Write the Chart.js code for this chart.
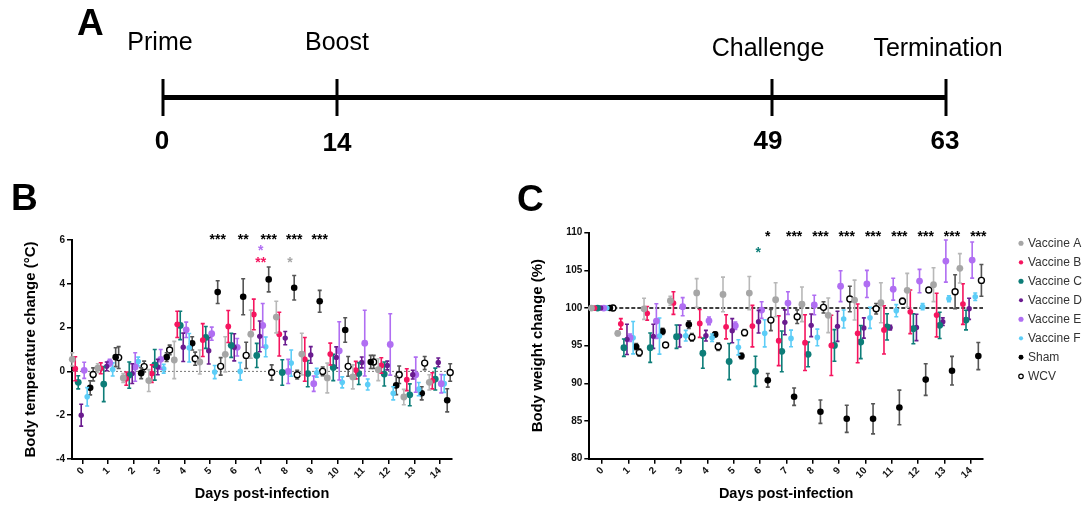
<!DOCTYPE html>
<html>
<head>
<meta charset="utf-8">
<script src="https://cdn.jsdelivr.net/npm/chart.js@4.4.1/dist/chart.umd.min.js"></script>
<style>
  html, body { margin: 0; padding: 0; background: #fff; }
  body { width: 1089px; height: 506px; position: relative; overflow: hidden; }
  canvas { position: absolute; }
  #timeline { left: 0; top: 0; }
  #tempChart { left: 0; top: 170px; }
  #weightChart { left: 500px; top: 170px; }
</style>
</head>
<body>
<canvas id="timeline" width="1089" height="170"></canvas>
<canvas id="tempChart" width="500" height="336"></canvas>
<canvas id="weightChart" width="589" height="336"></canvas>
<script>
// timeline (panel A)
const timelineDays = [0, 14, 49, 63];
const timelineEvents = ["Prime", "Boost", "Challenge", "Termination"];

// groups
const days = [0, 1, 2, 3, 4, 5, 6, 7, 8, 9, 10, 11, 12, 13, 14];
const groupNames = ["Vaccine A", "Vaccine B", "Vaccine C", "Vaccine D", "Vaccine E", "Vaccine F", "Sham", "WCV"];

// body temperature change (°C), mean and error
const tempVaccineA = [0.55, 0.15, -0.3, -0.42, 0.52, 0.43, 0.78, 1.7, 2.48, 0.79, -0.3, -0.25, 0.08, -1.17, -0.5];
const tempVaccineB = [0.12, 0.14, -0.33, -0.1, 2.15, 1.43, 2.05, 2.6, 1.7, 0.55, 0.79, 0.06, 0.27, -0.38, -0.43];
const tempVaccineC = [-0.5, -0.58, -0.17, 0.3, 2.1, 1.55, 1.19, 0.73, -0.05, -0.1, 0.18, -0.1, -0.12, -1.07, -0.35];
const tempVaccineD = [-2.0, 0.23, -0.1, 0.2, 1.1, 0.94, 1.1, 1.6, 1.52, 0.75, 0.64, 0.41, 0.27, -0.15, 0.41];
const tempVaccineE = [0.05, 0.4, 0.2, 0.55, 1.9, 1.72, 1.1, 2.1, 0.0, -0.56, 0.94, 1.29, 1.23, -0.15, -0.56];
const tempVaccineF = [-1.16, 0.09, 0.45, 0.12, 1.08, -0.03, 0.0, 1.12, 0.38, -0.06, -0.5, -0.6, -1.0, -0.81, -0.56];
const tempSham = [-0.75, 0.65, -0.08, 0.65, 1.28, 3.62, 3.41, 4.2, 3.82, 3.2, 1.89, 0.43, -0.64, -1.0, -1.32];
const tempWCV = [-0.14, 0.63, 0.22, 0.98, 0.58, 0.23, 0.73, -0.05, -0.15, 0.0, 0.23, 0.43, -0.15, 0.38, -0.05];

const tempErrA = [0.3, 0.2, 0.2, 0.5, 0.85, 0.55, 0.8, 1.1, 0.72, 0.95, 0.68, 0.55, 0.5, 0.35, 0.35];
const tempErrB = [0.55, 0.25, 0.3, 0.4, 0.6, 0.75, 0.73, 0.7, 1.0, 1.0, 0.5, 0.4, 0.35, 0.5, 0.37];
const tempErrC = [0.3, 0.8, 0.6, 0.7, 0.65, 0.5, 0.55, 0.55, 0.58, 0.6, 0.6, 0.5, 0.55, 0.5, 0.5];
const tempErrD = [0.5, 0.2, 0.45, 0.35, 0.65, 0.6, 0.62, 0.7, 0.3, 0.38, 0.48, 0.25, 0.2, 0.2, 0.2];
const tempErrE = [0.37, 0.15, 0.65, 0.45, 0.35, 0.3, 0.4, 1.0, 0.55, 0.35, 1.33, 1.5, 1.4, 0.8, 0.42];
const tempErrF = [0.42, 0.3, 0.2, 0.2, 0.65, 0.3, 0.4, 0.45, 0.6, 0.2, 0.25, 0.25, 0.3, 0.3, 0.4];
const tempErrSham = [0.32, 0.43, 0.25, 0.2, 0.3, 0.52, 0.82, 0.57, 0.56, 0.5, 0.56, 0.3, 0.42, 0.3, 0.53];
const tempErrWCV = [0.3, 0.5, 0.25, 0.22, 0.3, 0.4, 0.6, 0.35, 0.2, 0.2, 0.45, 0.3, 0.4, 0.3, 0.4];

// body weight change (%), mean and error
const weightVaccineA = [100, 96.64, 99.9, 100.97, 102.0, 101.8, 101.99, 101.1, 100.5, 99.03, 101.06, 100.7, 102.35, 103.1, 105.27];
const weightVaccineB = [100, 97.9, 99.3, 100.66, 97.96, 97.5, 97.6, 95.66, 95.4, 95.04, 96.64, 97.1, 99.5, 99.07, 100.53];
const weightVaccineC = [100, 94.73, 94.73, 96.2, 94.0, 92.9, 91.6, 94.25, 93.85, 95.04, 95.49, 97.5, 97.25, 97.7, 98.4];
const weightVaccineD = [100, 95.84, 96.24, 96.28, 96.33, 97.0, 98.19, 98.1, 97.7, 97.57, 97.35, 97.4, 97.43, 98.19, 99.9];
const weightVaccineE = [100, 96.06, 98.27, 100.18, 98.3, 97.65, 99.73, 100.66, 100.4, 102.9, 103.2, 102.5, 103.58, 106.24, 106.37];
const weightVaccineF = [100, 96.06, 96.28, 96.33, 96.06, 94.78, 96.64, 95.97, 96.1, 98.54, 98.7, 99.65, 100.18, 101.24, 101.5];
const weightSham = [100, 94.87, 96.9, 97.8, 96.5, 93.63, 90.4, 88.23, 86.24, 85.3, 85.3, 86.8, 90.5, 91.68, 93.63];
const weightWCV = [100, 94.1, 95.1, 96.1, 94.87, 96.73, 98.4, 98.85, 100.09, 101.2, 99.9, 100.9, 102.4, 102.16, 103.67];

const weightErrA = [0.1, 0.3, 1.4, 0.6, 1.9, 2.3, 2.2, 2.25, 2.3, 2.3, 2.65, 2.65, 2.25, 2.25, 1.95];
const weightErrB = [0.1, 0.7, 0.9, 1.5, 1.85, 1.6, 2.75, 3.3, 3.7, 4.0, 3.9, 3.2, 2.9, 2.9, 2.7];
const weightErrC = [0.1, 1.15, 1.95, 1.55, 2.0, 2.4, 2.0, 2.7, 1.65, 2.1, 2.2, 1.75, 2.0, 1.75, 1.3];
const weightErrD = [0.1, 2.0, 1.6, 1.45, 0.7, 1.6, 1.5, 1.65, 1.5, 2.0, 1.35, 0.3, 1.75, 0.5, 1.4];
const weightErrE = [0.1, 0.5, 2.3, 1.2, 0.5, 0.5, 1.1, 1.5, 1.3, 2.05, 1.8, 1.45, 1.55, 2.8, 2.4];
const weightErrF = [0.1, 2.15, 2.4, 0.7, 0.5, 1.0, 1.8, 1.1, 1.1, 1.2, 1.4, 0.8, 0.4, 0.4, 0.5];
const weightErrSham = [0.1, 0.4, 0.4, 0.5, 0.3, 0.4, 0.9, 1.15, 1.55, 1.8, 2.0, 2.3, 2.1, 1.9, 1.8];
const weightErrWCV = [0.1, 0.5, 0.2, 0.5, 0.5, 0.4, 1.4, 0.9, 0.75, 1.7, 0.7, 0.4, 0.3, 2.25, 2.1];

// axis ticks
const tempTicks = [-4, -2, 0, 2, 4, 6];
const weightTicks = [80, 85, 90, 95, 100, 105, 110];

// significance marks (vs Sham on top row, single groups below)
const tempSigDays = [5, 6, 7, 8, 9];
const tempSigLabels = ["***", "**", "***", "***", "***"];
const tempGroupSigX = [6.98, 6.98, 8.13];
const tempGroupSigY = [5.69, 5.11, 5.11];
const tempGroupSigGroup = [4, 1, 0];
const tempGroupSigLabels = ["*", "**", "*"];

const weightSigDays = [6, 7, 8, 9, 10, 11, 12, 13, 14];
const weightSigLabels = ["*", "***", "***", "***", "***", "***", "***", "***", "***"];
const weightGroupSigX = [5.93];
const weightGroupSigY = [107.84];
const weightGroupSigGroup = [2];
const weightGroupSigLabels = ["*"];

// styles
const groupColors = ["#a6a6a6", "#f5155f", "#0d7d78", "#6a1b8f", "#b06ef2", "#5ccdf7", "#000000", "#000000"];
const errorColors = ["#b8b8b8", "#f5155f", "#0d7d78", "#6a1b8f", "#b06ef2", "#5ccdf7", "#555555", "#555555"];
const pointSizes = [3.4, 2.9, 3.4, 2.7, 3.4, 2.8, 3.3, 3.0];
const groupShift = 0.117;
const FONT = "'Liberation Sans', Arial, Helvetica, sans-serif";

Chart.defaults.font.family = FONT;

const tempMeans = [tempVaccineA, tempVaccineB, tempVaccineC, tempVaccineD, tempVaccineE, tempVaccineF, tempSham, tempWCV];
const tempErrs = [tempErrA, tempErrB, tempErrC, tempErrD, tempErrE, tempErrF, tempErrSham, tempErrWCV];
const weightMeans = [weightVaccineA, weightVaccineB, weightVaccineC, weightVaccineD, weightVaccineE, weightVaccineF, weightSham, weightWCV];
const weightErrs = [weightErrA, weightErrB, weightErrC, weightErrD, weightErrE, weightErrF, weightErrSham, weightErrWCV];

function groupX(day, g) {
    return day + (g - 3.5) * groupShift;
}

function buildDatasets(means, errs) {
    return groupNames.map((name, g) => ({
        label: name,
        data: days.map((d, i) => ({ x: groupX(d, g), y: means[g][i] })),
        errors: errs[g],
        errorColor: errorColors[g],
        pointRadius: pointSizes[g],
        pointBackgroundColor: name === "WCV" ? "#ffffff" : groupColors[g],
        pointBorderColor: groupColors[g],
        pointBorderWidth: name === "WCV" ? 1.4 : 0,
        showLine: false,
        clip: false
    }));
}

function refLine(xmin, xmax, value, color, width, dash) {
    return {
        label: "ref",
        data: [{ x: xmin, y: value }, { x: xmax, y: value }],
        showLine: true,
        pointRadius: 0,
        borderColor: color,
        borderWidth: width,
        borderDash: dash,
        order: 10
    };
}

// error bars drawn right before each dataset's points
const errorBars = {
    id: "errorBars",
    beforeDatasetDraw(chart, args) {
        const ds = chart.data.datasets[args.index];
        if (!ds.errors) return;
        const ctx = chart.ctx;
        const yScale = chart.scales.y;
        ctx.save();
        ctx.strokeStyle = ds.errorColor;
        ctx.lineWidth = 1.6;
        args.meta.data.forEach((pt, i) => {
            const v = ds.data[i].y;
            const e = ds.errors[i];
            const y1 = yScale.getPixelForValue(v - e);
            const y2 = yScale.getPixelForValue(v + e);
            ctx.beginPath();
            ctx.moveTo(pt.x, y1); ctx.lineTo(pt.x, y2);
            ctx.moveTo(pt.x - 2, y1); ctx.lineTo(pt.x + 2, y1);
            ctx.moveTo(pt.x - 2, y2); ctx.lineTo(pt.x + 2, y2);
            ctx.stroke();
        });
        ctx.restore();
    }
};

function drawStar(ctx, text, x, y, color) {
    ctx.fillStyle = color;
    ctx.font = "bold 14px " + FONT;
    ctx.textAlign = "center";
    ctx.textBaseline = "alphabetic";
    ctx.fillText(text, x, y + 8);
}

function sigPlugin(sigDays, sigLabels, topValue, gx, gy, gg, gl) {
    return {
        id: "sigMarks",
        afterDraw(chart) {
            const ctx = chart.ctx, xs = chart.scales.x, ys = chart.scales.y;
            ctx.save();
            sigDays.forEach((d, i) => {
                drawStar(ctx, sigLabels[i], xs.getPixelForValue(groupX(d, 6)), ys.getPixelForValue(topValue), "#000");
            });
            gx.forEach((x, i) => {
                drawStar(ctx, gl[i], xs.getPixelForValue(x), ys.getPixelForValue(gy[i]), groupColors[gg[i]]);
            });
            ctx.restore();
        }
    };
}

function panelLetter(letter, x, y) {
    return {
        id: "panelLetter",
        afterDraw(chart) {
            const ctx = chart.ctx;
            ctx.save();
            ctx.fillStyle = "#000";
            ctx.font = "bold 37px " + FONT;
            ctx.textAlign = "left";
            ctx.textBaseline = "alphabetic";
            ctx.fillText(letter, x, y);
            ctx.restore();
        }
    };
}

function axisOptions(min, max, size, title, titlePad) {
    return {
        type: "linear",
        min: min,
        max: max,
        grid: { display: true, drawOnChartArea: false, drawTicks: true, tickLength: 5, color: "#000", lineWidth: 1.5 },
        border: { display: true, color: "#000", width: 2 },
        title: { display: true, text: title, color: "#000", font: { weight: "bold", size: size }, padding: titlePad }
    };
}

function makePanel(id, means, errs, opts) {
    const x = axisOptions(opts.xmin, opts.xmax, 14.5, "Days post-infection", { top: 0, bottom: 3 });
    x.afterFit = s => { s.height = opts.xHeight; };
    x.afterBuildTicks = s => { s.ticks = days.map(v => ({ value: v })); };
    x.ticks = { autoSkip: false, minRotation: 45, maxRotation: 45, padding: 1, color: "#111", font: { weight: "bold", size: 10 } };

    const y = axisOptions(opts.ymin, opts.ymax, 15, opts.yTitle, { top: opts.yTitlePad, bottom: 0 });
    y.afterFit = s => { s.width = opts.yWidth; };
    y.afterBuildTicks = s => { s.ticks = opts.yTicks.map(v => ({ value: v })); };
    y.ticks = { padding: 2, color: "#111", font: { weight: "bold", size: 10 } };

    const datasets = buildDatasets(means, errs);
    datasets.push(opts.refLine);

    return new Chart(document.getElementById(id), {
        type: "scatter",
        data: { datasets: datasets },
        options: {
            responsive: false,
            animation: false,
            events: [],
            layout: { padding: opts.padding },
            plugins: { legend: { display: false }, tooltip: { enabled: false } },
            scales: { x: x, y: y }
        },
        plugins: opts.plugins
    });
}

// panel A: timeline
const eventDx = [-3, 0, -4, -8];
const eventBaseline = [50, 50, 56, 56];
const numberDx = [-1, 0, -4, -1];
const numberBaseline = [149, 151, 149, 149];

new Chart(document.getElementById("timeline"), {
    type: "scatter",
    data: {
        datasets: [{
            data: timelineDays.map(d => ({ x: d, y: 0 })),
            showLine: true,
            borderColor: "#000",
            borderWidth: 5,
            pointStyle: "line",
            pointRotation: 90,
            pointRadius: 18.5,
            pointBorderWidth: 3,
            pointBorderColor: "#000",
            clip: false
        }]
    },
    options: {
        responsive: false,
        animation: false,
        events: [],
        layout: { padding: { left: 163, right: 143, top: 78, bottom: 53 } },
        plugins: { legend: { display: false }, tooltip: { enabled: false } },
        scales: {
            x: { type: "linear", min: 0, max: 63, display: false },
            y: { min: -1, max: 1, display: false }
        }
    },
    plugins: [panelLetter("A", 77, 35), {
        id: "timelineText",
        afterDraw(chart) {
            const ctx = chart.ctx, xs = chart.scales.x;
            ctx.save();
            ctx.fillStyle = "#000";
            ctx.textAlign = "center";
            ctx.textBaseline = "alphabetic";
            timelineDays.forEach((d, i) => {
                const px = xs.getPixelForValue(d);
                ctx.font = "25px " + FONT;
                ctx.fillText(timelineEvents[i], px + eventDx[i], eventBaseline[i]);
                ctx.font = "bold 26px " + FONT;
                ctx.fillText(String(d), px + numberDx[i], numberBaseline[i]);
            });
            ctx.restore();
        }
    }]
});

// panel B: body temperature
makePanel("tempChart", tempMeans, tempErrs, {
    xmin: -0.42, xmax: 14.48, ymin: -4, ymax: 6, yTicks: tempTicks,
    yTitle: "Body temperature change (°C)", yTitlePad: 22,
    yWidth: 72, xHeight: 47,
    padding: { left: 0, right: 48, top: 70, bottom: 0 },
    refLine: refLine(-0.42, 14.48, 0, "#777", 1, [2, 2]),
    plugins: [errorBars, panelLetter("B", 11, 40),
        sigPlugin(tempSigDays, tempSigLabels, 6.2, tempGroupSigX, tempGroupSigY, tempGroupSigGroup, tempGroupSigLabels)]
});

// panel C: body weight
const weightLegend = {
    id: "weightLegend",
    afterDraw(chart) {
        const ctx = chart.ctx;
        ctx.save();
        ctx.font = "12px " + FONT;
        ctx.textAlign = "left";
        ctx.textBaseline = "middle";
        groupNames.forEach((name, g) => {
            const y = 73.3 + g * 19;
            ctx.beginPath();
            ctx.arc(521, y, pointSizes[g] * 0.75, 0, Math.PI * 2);
            if (name === "WCV") {
                ctx.fillStyle = "#fff"; ctx.fill();
                ctx.strokeStyle = "#000"; ctx.lineWidth = 1.2; ctx.stroke();
            } else {
                ctx.fillStyle = groupColors[g]; ctx.fill();
            }
            ctx.fillStyle = "#333";
            ctx.fillText(name, 528, y);
        });
        ctx.restore();
    }
};

makePanel("weightChart", weightMeans, weightErrs, {
    xmin: -0.49, xmax: 14.47, ymin: 80, ymax: 110, yTicks: weightTicks,
    yTitle: "Body weight change (%)", yTitlePad: 29,
    yWidth: 89.3, xHeight: 47.3,
    padding: { left: 0, right: 106, top: 62.7, bottom: 0 },
    refLine: refLine(-0.49, 14.47, 100, "#000", 1.5, [4, 2]),
    plugins: [errorBars, weightLegend, panelLetter("C", 17, 41),
        sigPlugin(weightSigDays, weightSigLabels, 109.92, weightGroupSigX, weightGroupSigY, weightGroupSigGroup, weightGroupSigLabels)]
});
</script>
</body>
</html>
